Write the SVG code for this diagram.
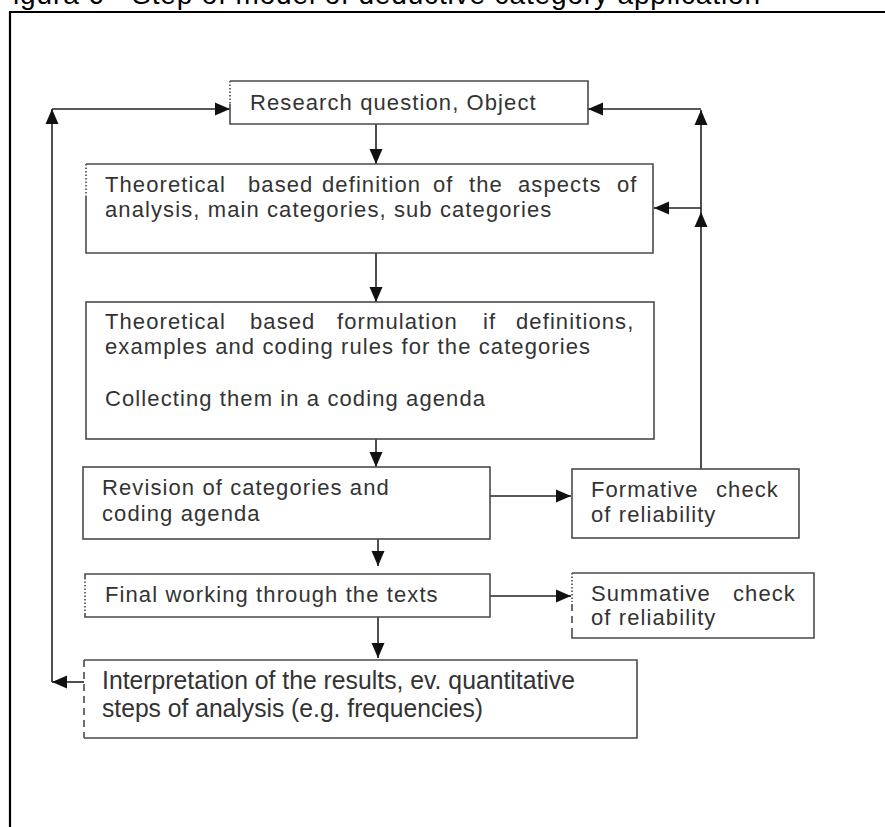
<svg xmlns="http://www.w3.org/2000/svg" width="885" height="827" viewBox="0 0 885 827">
<style>
.box{fill:none;stroke:#4a4a4a;stroke-width:1.6}
.dot{fill:none;stroke:#4a4a4a;stroke-width:1.6;stroke-dasharray:1.5 2}
.dash{fill:none;stroke:#4a4a4a;stroke-width:1.6;stroke-dasharray:7 5}
.t{font-family:"Liberation Sans",Arial,sans-serif;font-size:22px;fill:#333;letter-spacing:1.1px}
.n{font-family:"Liberation Sans Narrow","Liberation Sans",Arial,sans-serif;font-size:25px;fill:#333}
.c{fill:none;stroke:#222;stroke-width:1.6;marker-end:url(#ah)}
</style>
<defs>
<marker id="ah" markerUnits="userSpaceOnUse" markerWidth="15" markerHeight="14" viewBox="0 0 15 14" refX="15" refY="7" orient="auto">
<path d="M0,0.5 L15,7 L0,13.5 z" fill="#111"/>
</marker>
</defs>
<rect width="885" height="827" fill="#fff"/>
<text x="13" y="4" font-family="Liberation Sans,Arial,sans-serif" font-size="28" fill="#000" textLength="747">igura 6 - Step of model of deductive category application</text>
<path d="M10,827 V12 H885" fill="none" stroke="#000" stroke-width="2.2"/>

<g id="connectors">
<path class="c" d="M376,124 V164"/>
<path class="c" d="M376,253 V302"/>
<path class="c" d="M376,439 V467"/>
<path class="c" d="M378,539 V566"/>
<path class="c" d="M378,617 V658"/>
<path class="c" d="M490,496 H571"/>
<path class="c" d="M490,596 H571"/>
<path class="c" d="M701,469 V212"/>
<path class="c" d="M701,212 V110"/>
<path class="c" d="M701,109 H588"/>
<path class="c" d="M701,208 H654"/>
<path class="c" d="M84,682 H52"/>
<path class="c" d="M52,682 V109"/>
<path class="c" d="M52,109 H230"/>
</g>

<g id="research">
<path class="box" d="M230,104 V124 H588 V81 H230"/>
<path class="dot" d="M230,81 V104"/>
<text class="t" x="250" y="110">Research question, Object</text>
</g>

<g id="definition">
<path class="box" d="M86,196 V253 H653 V164 H86"/>
<path class="dot" d="M86,164 V196"/>
<text class="t" y="192"><tspan x="105">Theoretical</tspan><tspan x="248">based</tspan><tspan x="322">definition</tspan><tspan x="433">of</tspan><tspan x="469">the</tspan><tspan x="518">aspects</tspan><tspan x="617">of</tspan></text>
<text class="t" x="105" y="217">analysis, main categories, sub categories</text>
</g>

<g id="formulation">
<rect class="box" x="86" y="302" width="568" height="137"/>
<text class="t" y="329"><tspan x="105">Theoretical</tspan><tspan x="250">based</tspan><tspan x="337">formulation</tspan><tspan x="483">if</tspan><tspan x="516">definitions,</tspan></text>
<text class="t" x="105" y="354">examples and coding rules for the categories</text>
<text class="t" x="105" y="406">Collecting them in a coding agenda</text>
</g>

<g id="revision">
<rect class="box" x="83" y="467" width="407" height="72"/>
<text class="t" x="102" y="495">Revision of categories and</text>
<text class="t" x="102" y="521">coding agenda</text>
</g>

<g id="formative">
<rect class="box" x="572" y="469" width="227" height="69"/>
<text class="t" y="497"><tspan x="591">Formative</tspan><tspan x="716">check</tspan></text>
<text class="t" x="591" y="522">of reliability</text>
</g>

<g id="final">
<path class="box" d="M85,578 V574 H490 V617 H85 V614"/>
<path class="dot" d="M85,578 V614"/>
<text class="t" x="105" y="602">Final working through the texts</text>
</g>

<g id="summative">
<path class="box" d="M572,632 V638 H814 V573 H572"/>
<path class="dot" d="M572,573 V602"/>
<path class="dash" d="M572,604 V632"/>
<text class="t" y="601"><tspan x="591">Summative</tspan><tspan x="733">check</tspan></text>
<text class="t" x="591" y="625">of reliability</text>
</g>

<g id="interpretation">
<path class="box" d="M84,738 H637 V660 H84"/>
<path class="dash" d="M84,660 V738"/>
<text class="n" x="102" y="689" textLength="473" lengthAdjust="spacingAndGlyphs">Interpretation of the results, ev. quantitative</text>
<text class="n" x="102" y="717" textLength="381" lengthAdjust="spacingAndGlyphs">steps of analysis (e.g. frequencies)</text>
</g>
</svg>
